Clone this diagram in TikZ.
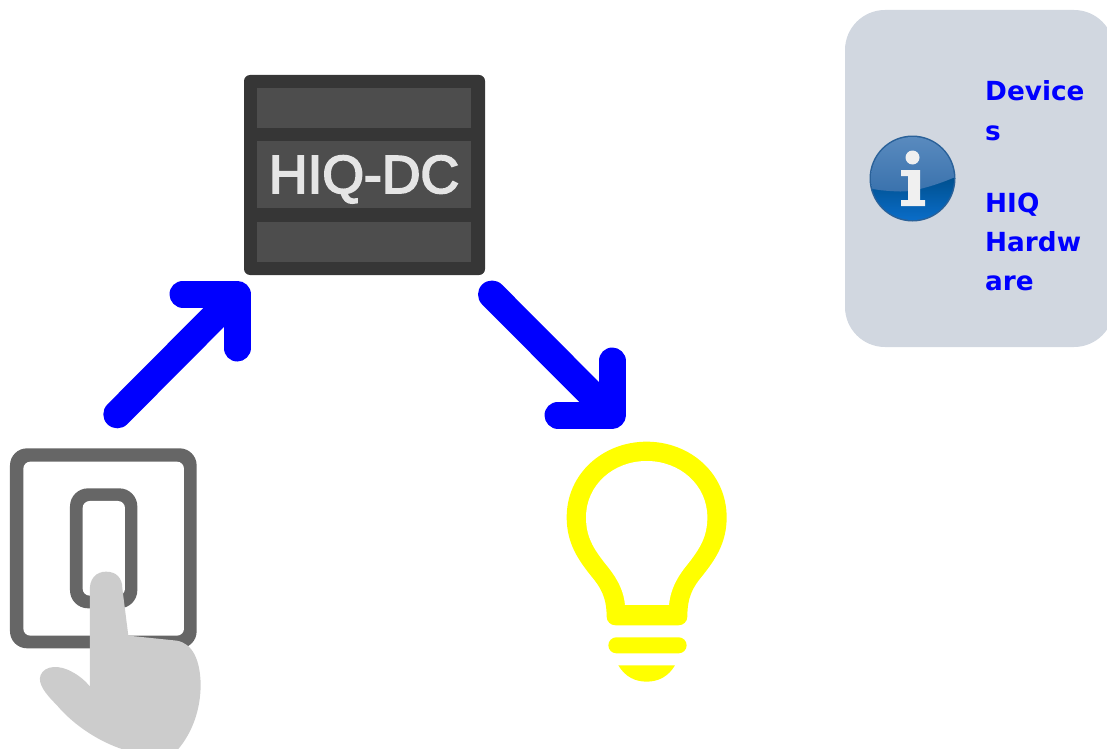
\documentclass[tikz,border=0pt]{standalone}
\usepackage{fontspec}
\setmainfont{Liberation Sans}
\newfontfamily\linkfont{DejaVu Sans Bold}
\newfontfamily\serverfont[FakeBold=3.5]{Liberation Sans}
\definecolor{panel}{HTML}{D1D7E0}
\definecolor{srvdark}{HTML}{363636}
\definecolor{srvbar}{HTML}{4D4D4D}
\definecolor{swgrey}{HTML}{666666}
\definecolor{handgrey}{HTML}{CCCCCC}
\definecolor{icontop}{HTML}{5A8BBF}
\definecolor{iconmid}{HTML}{3A72AD}
\definecolor{iconlow}{HTML}{00508F}
\definecolor{iconbot}{HTML}{0A6ECB}
\definecolor{iconrim}{HTML}{2A6199}
\definecolor{bulby}{RGB}{255,255,0}
\definecolor{flowblue}{RGB}{0,0,255}
\tikzset{
  flowshaft/.style={draw=flowblue,line width=28pt,line cap=round},
  flowhead/.style={draw=flowblue,line width=27pt,line cap=round,line join=round},
  srvbarbox/.style={fill=srvbar,draw=none},
  linktext/.style={anchor=base west,inner sep=0pt,text=flowblue,font=\linkfont\fontsize{26.3}{26.3}\selectfont},
  zoomed/.style={x=0.3333pt,y=-0.3333pt},
}
\begin{document}
\begin{tikzpicture}[x=1pt,y=-1pt]
\useasboundingbox (0,0) rectangle (1107,749);
\clip (0,0) rectangle (1107,749);

% info panel
\fill[panel,rounded corners=40pt] (845,10) rectangle (1114,347);

% info icon
\coordinate (ic) at (912.5,178.5);
\fill[iconrim] (ic) circle (43);
\begin{scope}
  \clip (ic) circle (41.5);
  \shade[top color=iconlow,bottom color=iconbot] (865,178) rectangle (960,222);
  \shade[top color=icontop,bottom color=iconmid] (865,135) -- (960,135) -- (960,175)
     .. controls (940,184) and (915,192) .. (900,191.5)
     .. controls (885,191) and (875,190) .. (865,187) -- cycle;
\end{scope}
\fill[white!94!black] (912.5,157.5) circle (7);
\fill[white!94!black] (901,170) -- (920,170) -- (920,200) -- (925,200) -- (925,206) -- (901,206) -- (901,200) -- (908,200) -- (908,176) -- (901,176) -- cycle;

% link texts
\node[linktext] (t1) at (985,101) {Device};
\node[linktext] (t2) at (985,140) {s};
\node[linktext] (t3) at (985,212) {HIQ};
\node[linktext] (t4) at (985,251) {Hardw};
\node[linktext] (t5) at (985,290) {are};

% server
\node[fill=srvdark,draw=none,rounded corners=6pt,inner sep=0pt,minimum width=241pt,minimum height=200pt] (server) at (364.5,175) {};
\fill[srvbarbox] (257,88) rectangle (471,128);
\fill[srvbarbox] (257,141) rectangle (471,208);
\fill[srvbarbox] (257,222) rectangle (471,262);
\node[anchor=base,inner sep=0pt,text=white!90!black,font=\serverfont\fontsize{53.5}{53.5}\selectfont] (srvlabel) at (364,193) {HIQ-DC};

% arrows
\coordinate (a1s) at (117.3,414.3);
\coordinate (a1e) at (234.5,296.5);
\coordinate (a1t) at (237,294);
\coordinate (a1h) at (183,294);
\coordinate (a1v) at (237,348);
\draw[flowshaft] (a1s) -- (a1e);
\draw[flowhead] (a1h) -- (a1t) -- (a1v);
\coordinate (a2s) at (492,294.5);
\coordinate (a2e) at (609.5,412.5);
\coordinate (a2t) at (612,415);
\coordinate (a2h) at (558,415);
\coordinate (a2v) at (612,361);
\draw[flowshaft] (a2s) -- (a2e);
\draw[flowhead] (a2h) -- (a2t) -- (a2v);

% switch and hand
\begin{scope}[shift={(0,430)},zoomed]
  \fill[swgrey,rounded corners=17pt] (30,55) rectangle (590,655);
  \fill[white,rounded corners=7pt] (70,95) rectangle (552,617);
  \fill[swgrey,rounded corners=18pt] (210,175) rectangle (412,535);
  \fill[white,rounded corners=7pt] (248,213) rectangle (375,497);
  \fill[handgrey] (270,490)
    .. controls (265,445) and (290,425) .. (318,425)
    .. controls (350,425) and (367,445) .. (367,475)
    -- (385,617)
    -- (530,632)
    .. controls (578,640) and (600,690) .. (602,760)
    .. controls (603,840) and (575,910) .. (535,957)
    -- (365,957)
    .. controls (300,935) and (225,890) .. (170,825)
    .. controls (135,790) and (112,760) .. (122,735)
    .. controls (135,705) and (180,705) .. (215,725)
    .. controls (240,738) and (258,755) .. (270,770)
    -- cycle;
\end{scope}

% bulb
\begin{scope}[shift={(550,430)},zoomed]
  \fill[bulby] (170,560)
    .. controls (170,500) and (150,470) .. (125,440)
    .. controls (85,390) and (50,340) .. (50,262)
    .. controls (50,130) and (160,35) .. (290,35)
    .. controls (420,35) and (530,130) .. (530,262)
    .. controls (530,340) and (495,390) .. (455,440)
    .. controls (430,470) and (412,500) .. (412,560)
    .. controls (412,575) and (400,586) .. (385,586)
    -- (197,586)
    .. controls (182,586) and (170,575) .. (170,560) -- cycle;
  \fill[white] (225,525)
    .. controls (220,470) and (190,430) .. (165,400)
    .. controls (130,355) and (108,320) .. (108,262)
    .. controls (108,165) and (190,93) .. (290,93)
    .. controls (390,93) and (472,165) .. (472,262)
    .. controls (472,320) and (450,355) .. (415,400)
    .. controls (390,430) and (362,470) .. (357,525) -- cycle;
  \fill[bulby,rounded corners=8pt] (175,622) rectangle (410,670);
  \fill[bulby] (205,706) -- (375,706) .. controls (355,740) and (325,755) .. (290,755)
    .. controls (255,755) and (225,740) .. (205,706) -- cycle;
\end{scope}
\end{tikzpicture}
\end{document}
